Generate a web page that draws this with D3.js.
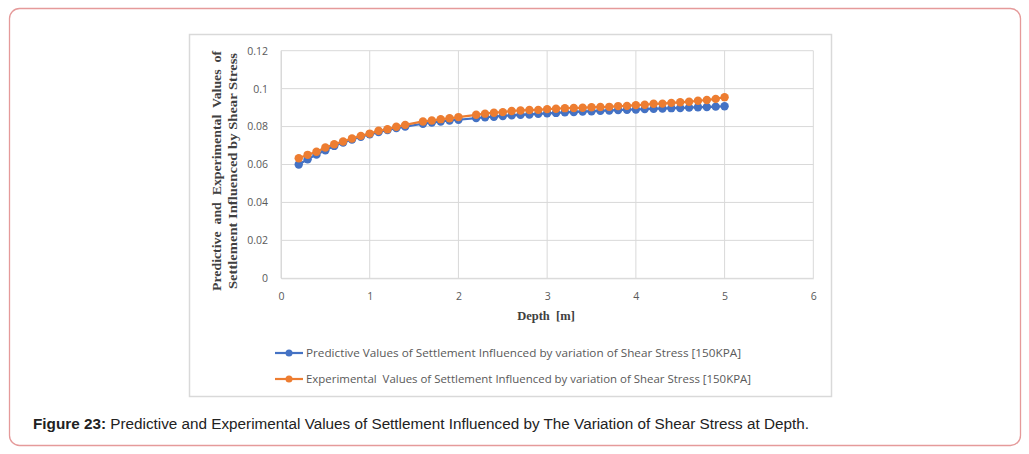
<!DOCTYPE html>
<html>
<head>
<meta charset="utf-8">
<script src="https://cdn.jsdelivr.net/npm/d3@7"></script>
<style>
  html, body { margin: 0; padding: 0; background: #fff; }
  svg { display: block; }
</style>
</head>
<body>
<svg id="chart" width="1029" height="454"></svg>
<script>
// ---- Data ----
const depths = [0.2,0.3,0.4,0.5,0.6,0.7,0.8,0.9,1.0,1.1,1.2,1.3,1.4,1.6,1.7,1.8,1.9,2.0,
  2.2,2.3,2.4,2.5,2.6,2.7,2.8,2.9,3.0,3.1,3.2,3.3,3.4,3.5,3.6,3.7,3.8,3.9,4.0,
  4.1,4.2,4.3,4.4,4.5,4.6,4.7,4.8,4.9,5.0];
const predictive = [0.0600,0.0628,0.0652,0.0675,0.0698,0.0716,0.0732,0.0746,0.0759,0.0771,0.0782,0.0792,0.0800,
  0.0815,0.0821,0.0827,0.0832,0.0836,
  0.0845,0.0849,0.0852,0.0856,0.0859,0.0862,0.0864,0.0867,0.0870,0.0872,0.0875,0.0877,0.0879,0.0881,0.0883,0.0885,0.0887,0.0889,0.0890,
  0.0892,0.0894,0.0895,0.0897,0.0898,0.0900,0.0902,0.0903,0.0905,0.0907];
const experimental = [0.0633,0.0651,0.0667,0.0690,0.0707,0.0721,0.0737,0.0751,0.0763,0.0778,0.0786,0.0799,0.0809,
  0.0827,0.0832,0.0839,0.0844,0.0850,
  0.0862,0.0868,0.0873,0.0876,0.0882,0.0885,0.0887,0.0888,0.0892,0.0894,0.0897,0.0898,0.0899,0.0902,0.0903,0.0904,0.0908,0.0909,0.0913,
  0.0915,0.0920,0.0921,0.0925,0.0928,0.0931,0.0936,0.0940,0.0946,0.0955];
const xTicks = [0,1,2,3,4,5,6];
const yTicks = [0,0.02,0.04,0.06,0.08,0.1,0.12];
const seriesNames = [
  "Predictive Values of Settlement Influenced by variation of Shear Stress [150KPA]",
  "Experimental  Values of Settlement Influenced by variation of Shear Stress [150KPA]"
];
const xTitle = "Depth  [m]";
const yTitleLines = ["Predictive  and  Experimental  Values  of", "Settlement Influenced by Shear Stress"];
const captionBold = "Figure 23:";
const captionText = " Predictive and Experimental Values of Settlement Influenced by The Variation of Shear Stress at Depth.";

const colors = ["#4472c4", "#ed7d31"];

// ---- Drawing ----
const svg = d3.select("#chart");

// outer rounded frame
svg.append("rect")
  .attr("x", 9.5).attr("y", 8.5).attr("width", 1011).attr("height", 437)
  .attr("rx", 10).attr("ry", 10)
  .attr("fill", "#fff").attr("stroke", "#e59a9a").attr("stroke-width", 1.3);

// chart box
svg.append("rect")
  .attr("x", 189.5).attr("y", 34.5).attr("width", 642).attr("height", 362)
  .attr("fill", "#fff").attr("stroke", "#d9d9d9").attr("stroke-width", 1.5);

const x = d3.scaleLinear().domain([0, 6]).range([281, 813.3]);
const y = d3.scaleLinear().domain([0, 0.12]).range([278.3, 50.7]);

const tickColor = "#595959";
const tickFont = "'Open Sans', 'Noto Sans', sans-serif";

// gridlines
const grid = svg.append("g");
grid.selectAll("line.h").data(yTicks).join("line")
  .attr("x1", x(0)).attr("x2", x(6))
  .attr("y1", d => y(d)).attr("y2", d => y(d))
  .attr("stroke", "#d9d9d9").attr("stroke-width", 1);
grid.selectAll("line.v").data(xTicks).join("line")
  .attr("x1", d => x(d)).attr("x2", d => x(d))
  .attr("y1", y(0)).attr("y2", y(0.12))
  .attr("stroke", "#d9d9d9").attr("stroke-width", 1);

// axes via d3
const xAxis = svg.append("g").attr("transform", `translate(0,${y(0)})`)
  .call(d3.axisBottom(x).tickValues(xTicks).tickSize(0).tickPadding(14).tickFormat(d3.format("d")));
const yAxis = svg.append("g").attr("transform", `translate(${x(0)},0)`)
  .call(d3.axisLeft(y).tickValues(yTicks).tickSize(0).tickPadding(13).tickFormat(d => d === 0 ? "0" : String(+d.toFixed(2))));
[xAxis, yAxis].forEach(g => {
  g.select(".domain").attr("stroke", "#d9d9d9");
  g.selectAll("text").attr("fill", tickColor).style("font-family", tickFont).style("font-size", "10.5px");
});

// axis titles
svg.append("text")
  .attr("x", 546).attr("y", 320)
  .attr("text-anchor", "middle")
  .style("font-family", "'Liberation Serif', 'DejaVu Serif', serif")
  .style("font-weight", "bold").style("font-size", "12.5px")
  .attr("fill", "#404040")
  .attr("xml:space", "preserve")
  .text(xTitle);

const yT = svg.append("text")
  .attr("transform", "translate(0,171) rotate(-90)")
  .attr("text-anchor", "middle")
  .style("font-family", "'Liberation Serif', 'DejaVu Serif', serif")
  .style("font-weight", "bold").style("font-size", "12.5px")
  .attr("fill", "#404040")
  .attr("xml:space", "preserve");
yT.selectAll("tspan").data(yTitleLines).join("tspan")
  .attr("x", 0).attr("y", (d, i) => 221 + i * 16)
  .attr("textLength", (d, i) => i === 0 ? 240 : 236)
  .attr("lengthAdjust", "spacingAndGlyphs")
  .text(d => d);

// series
const allSeries = [predictive, experimental];
const line = d3.line().x(d => x(d[0])).y(d => y(d[1]));
allSeries.forEach((vals, si) => {
  const pts = depths.map((d, i) => [d, vals[i]]);
  const g = svg.append("g");
  g.append("path").datum(pts).attr("d", line)
    .attr("fill", "none").attr("stroke", colors[si]).attr("stroke-width", 2.2);
  g.selectAll("circle").data(pts).join("circle")
    .attr("cx", d => x(d[0])).attr("cy", d => y(d[1])).attr("r", 4.2)
    .attr("fill", colors[si]);
});

// legend
const leg = svg.append("g");
seriesNames.forEach((name, i) => {
  const ly = 353 + i * 26;
  leg.append("line").attr("x1", 275).attr("x2", 303).attr("y1", ly).attr("y2", ly)
    .attr("stroke", colors[i]).attr("stroke-width", 2.2);
  leg.append("circle").attr("cx", 289).attr("cy", ly).attr("r", 3.5).attr("fill", colors[i]);
  leg.append("text").attr("x", 306).attr("y", ly + 4)
    .attr("fill", tickColor)
    .style("font-family", "'Open Sans', 'Noto Sans', sans-serif").style("font-size", "10.5px")
    .attr("textLength", i === 0 ? 435 : 445).attr("lengthAdjust", "spacingAndGlyphs")
    .attr("xml:space", "preserve")
    .text(name);
});

// caption
const cap = svg.append("text").attr("x", 33).attr("y", 429)
  .style("font-family", "'Liberation Sans', Arial, sans-serif").style("font-size", "14px")
  .attr("fill", "#222")
  .attr("textLength", 776).attr("lengthAdjust", "spacingAndGlyphs")
  .attr("xml:space", "preserve");
cap.append("tspan").style("font-weight", "bold").text(captionBold);
cap.append("tspan").text(captionText);
</script>
</body>
</html>
